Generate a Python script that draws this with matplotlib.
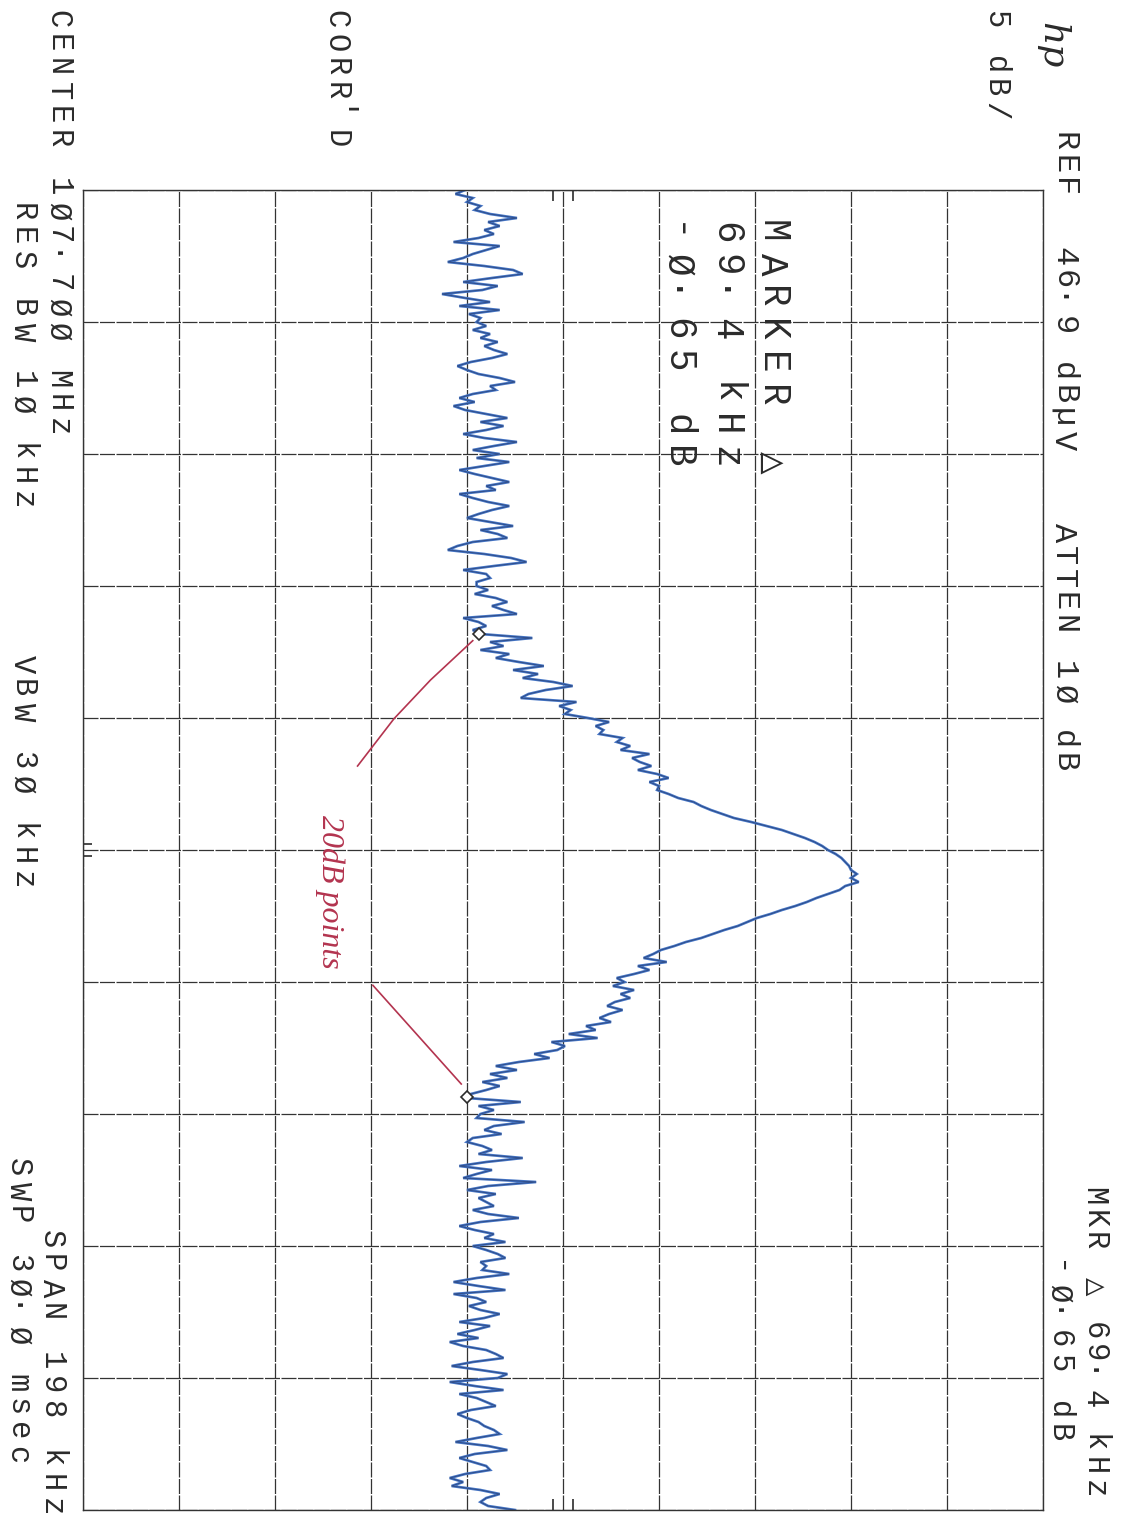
#!/usr/bin/env python3
""" HP spectrum analyser plot of an FM carrier, 20 dB bandwidth markers """
import numpy as np
import matplotlib.pyplot as plt

# analyser settings
ref_level = 46.9        # dBuV, top graticule line
db_per_div = 5.0
center_mhz = 107.7
span_khz = 198.0

# swept trace, dBuV, one value per 0.6 kHz from -99 kHz to +99 kHz
trace_db = [
    16.8, 16.3, 17.2, 16.9, 17.6, 17.3, 18.1, 19.5, 18.0, 18.6, 17.8, 18.3, 17.5, 16.2, 18.6, 17.9, 17.2,
    16.7, 15.9, 17.8, 19.3, 19.8, 18.2, 16.7, 18.5, 17.7, 15.6, 16.8, 18.1, 16.5, 18.6, 17.0, 17.6,
    17.4, 17.9, 17.2, 18.1, 17.6, 18.5, 17.8, 18.3, 19.0, 18.2, 17.1, 16.4, 16.9, 17.5, 18.6, 19.4, 18.1,
    18.4, 17.2, 16.5, 17.3, 16.2, 16.8, 17.9, 19.0, 17.6, 18.8, 17.9, 16.7, 17.8, 19.5, 18.3, 17.2,
    18.6, 17.4, 19.1, 17.8, 16.5, 17.3, 18.2, 19.1, 17.9, 18.4, 16.5, 17.2, 18.0, 19.1, 18.2, 17.5, 16.9,
    18.1, 19.3, 17.6, 18.5, 19.0, 17.2, 16.4, 15.9, 17.8, 19.2, 20.0, 18.3, 16.7, 17.9, 18.1, 17.4,
    17.4, 18.0, 17.3, 18.4, 19.0, 18.2, 18.8, 19.5, 16.7, 17.5, 17.9, 17.2, 17.6, 20.3, 18.1, 18.8, 17.6,
    19.1, 18.4, 19.6, 20.9, 19.3, 20.6, 19.8, 21.4, 22.4, 21.0, 20.1, 19.7, 22.6, 21.7, 22.3, 22.0,
    23.2, 24.3, 23.6, 24.0, 23.8, 25.0, 24.7, 25.4, 24.9, 26.4, 25.5, 25.9, 26.5, 25.8, 26.8, 27.4, 26.4,
    26.9, 26.8, 27.4, 27.9, 28.7, 29.1, 29.6, 30.2, 30.8, 31.7, 32.5, 33.3, 33.9, 34.5, 35.0, 35.4,
    35.7, 36.1, 36.4, 36.6, 36.8, 36.9, 37.2, 36.9, 37.3, 36.6, 36.3, 35.7, 35.1, 34.6, 34.0, 33.3, 32.7,
    32.0, 31.5, 31.0, 30.3, 29.7, 29.1, 28.3, 27.7, 27.0, 26.6, 26.1, 27.3, 25.8, 26.4, 25.6, 24.7,
    25.1, 24.5, 25.6, 24.9, 25.4, 24.6, 24.2, 25.0, 24.3, 23.8, 24.4, 23.1, 23.6, 22.2, 23.7, 21.3, 22.0,
    21.6, 20.4, 21.2, 19.6, 18.4, 19.5, 18.1, 19.0, 17.7, 18.6, 17.9, 17.1, 16.9, 19.7, 17.5, 18.3,
    17.6, 17.4, 19.9, 18.3, 17.8, 18.7, 17.2, 16.9, 17.7, 18.2, 17.5, 19.8, 17.9, 16.5, 18.2, 17.4, 16.7,
    20.5, 18.0, 16.9, 18.4, 17.5, 17.9, 18.3, 17.2, 18.0, 19.6, 17.6, 16.5, 17.3, 18.3, 17.8, 18.9,
    17.2, 17.9, 18.5, 18.9, 17.6, 17.9, 17.7, 19.1, 17.4, 16.2, 17.5, 18.9, 16.2, 17.4, 17.9, 17.0, 17.6,
    18.6, 17.8, 16.5, 18.1, 17.3, 16.4, 17.5, 16.0, 16.7, 17.9, 18.4, 18.8, 17.2, 16.1, 17.6, 19.0,
    18.5, 16.0, 17.3, 18.8, 16.5, 17.4, 17.9, 18.4, 17.1, 16.4, 16.9, 17.5, 17.8, 18.3, 18.6, 17.4, 16.3,
    18.0, 19.0, 17.3, 16.5, 17.2, 17.9, 18.1, 16.8, 16.0, 16.7, 16.1, 17.6, 18.6, 17.9, 17.6, 18.0, 19.4,
]

# delta marker pair (the 20 dB points)
mkr_khz = [-32.4, 37.0]
mkr_db = [17.55, 16.90]

# hand drawn leaders to the note
leader1_db = [17.2, 15.0, 13.1, 11.2]
leader1_khz = [-31.4, -25.5, -19.7, -12.6]
leader2_db = [12.0, 16.6]
leader2_khz = [20.3, 35.1]

W, H = 1123, 1520
INK = '#2b2b2b'
RED = '#b3344f'
MONO = ['Liberation Mono', 'DejaVu Sans Mono', 'DejaVu Sans']

fig = plt.figure(figsize=(W / 100, H / 100), dpi=100)
fig.patch.set_facecolor('white')

# graticule box, pixel placement of the plotter frame
gx0, gx1, gy0, gy1 = 83, 1043, 190, 1510
ax = fig.add_axes([gx0 / W, 1 - gy1 / H, (gx1 - gx0) / W, (gy1 - gy0) / H])

bottom_db = ref_level - 10 * db_per_div
half = span_khz / 2
ax.set_xlim(bottom_db, ref_level)
ax.set_ylim(half, -half)
ax.set_xticks(np.linspace(bottom_db, ref_level, 11))
ax.set_yticks(np.linspace(-half, half, 11))
ax.grid(True, color='#333333', lw=0.9, ls=(0, (12, 1.2)))
ax.tick_params(length=0, labelbottom=False, labelleft=False)
for sp in ax.spines.values():
    sp.set_color('#333333')
    sp.set_linewidth(1.0)

# centre marks on the frame
mid_db = (bottom_db + ref_level) / 2
ax.vlines([mid_db - 0.5, mid_db + 0.5], -half, -half + 1.6, color=INK, lw=1.2)
ax.vlines([mid_db - 0.5, mid_db + 0.5], half - 1.6, half, color=INK, lw=1.2)
ax.hlines([-0.9, 0.9], bottom_db, bottom_db + 0.45, color=INK, lw=1.2)

freq = np.linspace(-half, half, len(trace_db))
ax.plot(trace_db, freq, color='#4474c4', lw=1.9, solid_joinstyle='miter')
ax.plot(trace_db, freq, color='#1e2d57', lw=0.5, alpha=0.7)
ax.plot(mkr_db, mkr_khz, 'D', ms=6, mfc='white', mec=INK, mew=1.2)

ax.plot(leader1_db, leader1_khz, color=RED, lw=1.2)
ax.plot(leader2_db, leader2_khz, color=RED, lw=1.2)


def plot_text(x, y, s, pitch, size, **kw):
    """ one character at a time on a common baseline, like the pen plotter """
    cap = 0.68 * size * 100 / 72
    for k, ch in enumerate(s):
        if ch == ' ':
            continue
        fig.text((x - cap / 2) / W, 1 - (y + k * pitch) / H, ch, rotation=-90,
                 rotation_mode='anchor', ha='left', va='baseline',
                 fontsize=size, family=MONO, color=INK, **kw)


plot_text(997, 10, "5 dB/", 23, 22)
plot_text(1066, 132, "REF  46.9 dBµV   ATTEN 1Ø dB", 23, 23)
plot_text(338, 10, "CORR'D", 24, 22)
plot_text(60, 10, "CENTER 1Ø7.7ØØ MHz", 24, 22)
plot_text(24, 203, "RES BW 1Ø kHz", 24, 22)
plot_text(24, 655, "VBW 3Ø kHz", 24, 22)
plot_text(53, 1230, "SPAN 198 kHz", 24.4, 22)
plot_text(20, 1158, "SWP 3Ø.Ø msec", 24, 22)
plot_text(1096, 1187, "MKR △ 69.4 kHz", 22.5, 22)
plot_text(1061, 1260, "-Ø.65 dB", 23.5, 22)
plot_text(774, 220, "MARKER △", 33, 27)
plot_text(728, 222, "69.4 kHz", 32, 27)
plot_text(680, 222, "-Ø.65 dB", 32, 27)

fig.text(1052 / W, 1 - 22 / H, "hp", rotation=-90, ha='center', va='top',
         fontsize=26, style='italic', family='DejaVu Serif', color=INK)
fig.text(330 / W, 1 - 815 / H, "20dB points", rotation=-90, ha='center', va='top',
         fontsize=23, style='italic', family='Liberation Serif', color=RED)

fig.savefig('out.png', dpi=100)
